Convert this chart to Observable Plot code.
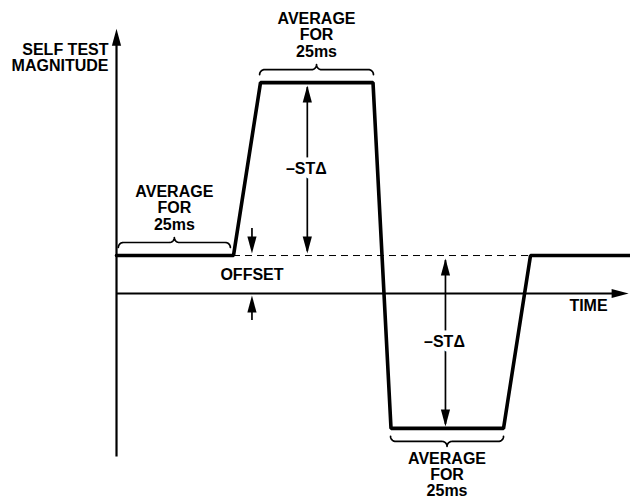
<!DOCTYPE html>
<html><head><meta charset="utf-8">
<script src="https://cdn.jsdelivr.net/npm/d3@7"></script>
<script src="https://cdn.jsdelivr.net/npm/@observablehq/plot@0.6"></script>
<style>body{margin:0;background:#fff} svg{display:block}</style>
</head><body><div id="chart"></div>
<script>
// ---- Data (time in ms, magnitude in arbitrary units, offset = 1) ----
const signalTime = [0, 26, 32, 57, 61, 86, 92, 114.2];
const signalMag  = [1, 1, 5.55, 5.55, -3.55, -3.55, 1, 1];
const offsetLevel = 1;
const dashStart = 26, dashEnd = 92;
const windowStart = [0.4, 31.8, 60.9];
const windowEnd   = [25.3, 57.1, 86];
const windowLevel = [1, 5.55, -3.55];
const windowSide  = ["above", "above", "below"];
const windowLabel = ["AVERAGE\nFOR\n25ms", "AVERAGE\nFOR\n25ms", "AVERAGE\nFOR\n25ms"];
const stArrowTime = [42.4, 73.1];
const stArrowFrom = [1, -3.55];
const stArrowTo   = [5.55, 1];
const stLabel     = ["\u2013ST\u0394", "\u2013ST\u0394"];
const offsetArrowTime = 30.1;
const offsetLabel = "OFFSET";
const axisTimeEnd = 113.8;
const axisMagMin = -4.3, axisMagMax = 6.97;
const yTitle = "SELF TEST\nMAGNITUDE";
const xTitle = "TIME";

// ---- Scales ----
const W = 630, H = 500;
const xDomain = [-25.78, 114.22], yDomain = [-5.447, 7.711];
const xs = d3.scaleLinear(xDomain, [0, W]);
const ys = d3.scaleLinear(yDomain, [H, 0]);
const shiftY = (m, px) => ys.invert(ys(m) + px);
const shiftX = (t, px) => xs.invert(xs(t) + px);

const signal = signalTime.map((t, i) => ({t, m: signalMag[i]}));

// braces (curly brackets over each averaging window)
const gap = 8, r = 5, N = 10;
const bracePts = [];
const labelPts = [];
windowStart.forEach((a, i) => {
  const b = windowEnd[i];
  const d = windowSide[i] === "above" ? -1 : 1;
  const x0 = xs(a), x1 = xs(b), xm = (x0 + x1) / 2;
  const yb = ys(windowLevel[i]) + d * gap;
  const pts = [];
  for (let k = 0; k <= N; k++) { const th = k / N * Math.PI / 2; pts.push([x0 + r - r * Math.cos(th), yb + d * r * Math.sin(th)]); }
  for (let k = 0; k <= N; k++) { const th = k / N * Math.PI / 2; pts.push([xm - r + r * Math.sin(th), yb + 2 * d * r - d * r * Math.cos(th)]); }
  for (let k = 0; k <= N; k++) { const th = k / N * Math.PI / 2; pts.push([xm + r - r * Math.cos(th), yb + d * r * (2 - Math.sin(th))]); }
  for (let k = 0; k <= N; k++) { const th = k / N * Math.PI / 2; pts.push([x1 - r + r * Math.sin(th), yb + d * r * Math.cos(th)]); }
  pts.forEach(([px, py]) => bracePts.push({id: i, t: xs.invert(px), m: ys.invert(py)}));
  labelPts.push({t: xs.invert(xm), m: ys.invert(yb + 2 * d * r + d * (d < 0 ? 8 : 6)), text: windowLabel[i], side: windowSide[i]});
});

// arrow heads
const heads = [
  {t: 0, m: axisMagMax, rot: 0},
  {t: axisTimeEnd, m: 0, rot: 90},
  ...stArrowTime.flatMap((t, i) => [
    {t, m: shiftY(stArrowTo[i], 3), rot: 0},
    {t, m: shiftY(stArrowFrom[i], -2), rot: 180}
  ]),
  {t: offsetArrowTime, m: shiftY(offsetLevel, -2), rot: 180},
  {t: offsetArrowTime, m: shiftY(0, 2), rot: 0}
];
const arrowHead = { draw(ctx) { ctx.moveTo(0, 0); ctx.lineTo(-4.6, 17); ctx.lineTo(4.6, 17); ctx.closePath(); } };

const stShafts = stArrowTime.map((t, i) => ({t, y1: shiftY(stArrowFrom[i], -4), y2: shiftY(stArrowTo[i], 5), label: stLabel[i], mid: (stArrowFrom[i] + stArrowTo[i]) / 2}));
const offsetShafts = [
  {t: offsetArrowTime, y1: shiftY(offsetLevel, -27), y2: shiftY(offsetLevel, -8)},
  {t: offsetArrowTime, y1: shiftY(0, 27), y2: shiftY(0, 8)}
];

const font = "'Liberation Sans', Arial, Helvetica, sans-serif";
const fs = 16;

const chart = Plot.plot({
  width: W, height: H,
  margin: 0,
  x: {domain: xDomain, range: [0, W], axis: null},
  y: {domain: yDomain, range: [H, 0], axis: null},
  style: {fontFamily: font, background: "#fff"},
  marks: [
    Plot.ruleY([offsetLevel], {x1: dashStart, x2: dashEnd, stroke: "#000", strokeWidth: 1, strokeDasharray: "7,5"}),
    Plot.ruleX([0], {y1: axisMagMin, y2: shiftY(axisMagMax, 10), stroke: "#000", strokeWidth: 2.2}),
    Plot.ruleY([0], {x1: 0, x2: shiftX(axisTimeEnd, -8), stroke: "#000", strokeWidth: 2.2}),
    Plot.line(signal, {x: "t", y: "m", stroke: "#000", strokeWidth: 3.6, strokeLinejoin: "miter", curve: "linear"}),
    Plot.line(bracePts, {x: "t", y: "m", z: "id", stroke: "#000", strokeWidth: 1.7}),
    Plot.ruleX(stShafts, {x: "t", y1: "y1", y2: "y2", stroke: "#000", strokeWidth: 1.7}),
    Plot.ruleX(offsetShafts, {x: "t", y1: "y1", y2: "y2", stroke: "#000", strokeWidth: 1.7}),
    Plot.dot(heads, {x: "t", y: "m", rotate: "rot", symbol: arrowHead, fill: "#000", stroke: "none", r: 4}),
    Plot.text(stShafts, {x: "t", y: "mid", text: "label", fontSize: fs, fontWeight: "bold", fill: "#000", stroke: "#fff", strokeWidth: 9, lineAnchor: "middle", dx: -1}),
    Plot.text(labelPts.filter(d => d.side === "above"), {x: "t", y: "m", text: "text", fontSize: fs, fontWeight: "bold", fill: "#000", lineAnchor: "bottom", lineHeight: 1.03}),
    Plot.text(labelPts.filter(d => d.side === "below"), {x: "t", y: "m", text: "text", fontSize: fs, fontWeight: "bold", fill: "#000", lineAnchor: "top", lineHeight: 1.0}),
    Plot.text([offsetLabel], {x: offsetArrowTime, y: offsetLevel / 2, text: d => d, fontSize: fs, fontWeight: "bold", fill: "#000", lineAnchor: "middle"}),
    Plot.text([yTitle], {x: 0, y: axisMagMax, text: d => d, fontSize: fs, fontWeight: "bold", fill: "#000", textAnchor: "end", lineAnchor: "middle", dx: -8, dy: 29, lineHeight: 1.0}),
    Plot.text([xTitle], {x: axisTimeEnd, y: 0, text: d => d, fontSize: fs, fontWeight: "bold", fill: "#000", textAnchor: "end", lineAnchor: "middle", dx: -21, dy: 12})
  ]
});
document.getElementById("chart").appendChild(chart);
</script>
</body></html>
